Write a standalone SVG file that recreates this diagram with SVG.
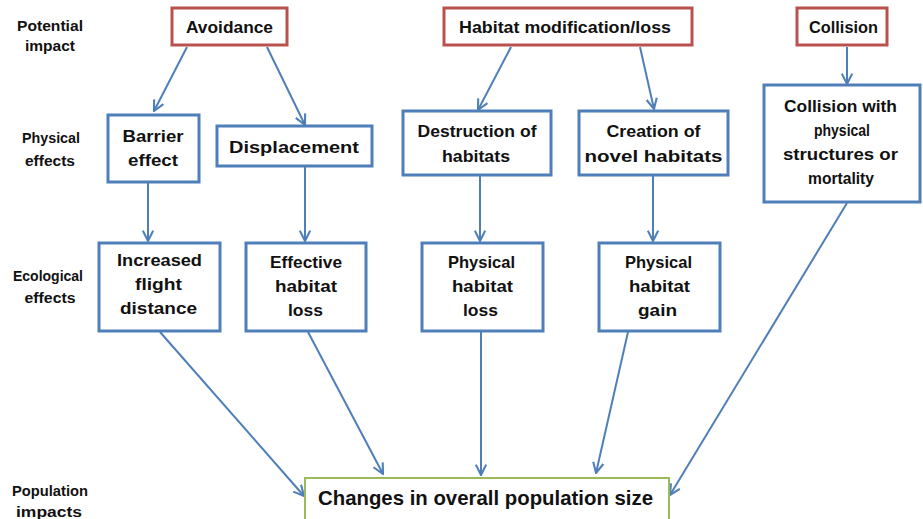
<svg xmlns="http://www.w3.org/2000/svg" width="923" height="519" viewBox="0 0 923 519">
<style>
text{font-family:"Liberation Sans",Arial,sans-serif;font-weight:bold;fill:#111;text-anchor:middle}
.lab{font-size:14px}
.t{font-size:17px}
.big{font-size:21px}
.red{fill:#fff;stroke:#b9524f;stroke-width:3}
.blue{fill:#fff;stroke:#4f7fb8;stroke-width:3}
.green{fill:#fff;stroke:#9bbb59;stroke-width:2}
.c line{stroke:#4f7fb8;stroke-width:2;marker-end:url(#ah)}
</style>
<defs>
<marker id="ah" viewBox="0 0 10 10" refX="9" refY="5" markerWidth="13" markerHeight="13" markerUnits="userSpaceOnUse" orient="auto">
<path d="M1,1 L9,5 L1,9" fill="none" stroke="#4f7fb8" stroke-width="1.6"/>
</marker>
</defs>
<rect width="923" height="519" fill="#fff"/>
<g id="row-labels">
<text class="lab" x="50" y="31" textLength="66" lengthAdjust="spacingAndGlyphs">Potential</text>
<text class="lab" x="50" y="51" textLength="50" lengthAdjust="spacingAndGlyphs">impact</text>
<text class="lab" x="51" y="143" textLength="58" lengthAdjust="spacingAndGlyphs">Physical</text>
<text class="lab" x="50" y="166" textLength="50" lengthAdjust="spacingAndGlyphs">effects</text>
<text class="lab" x="48" y="281" textLength="70" lengthAdjust="spacingAndGlyphs">Ecological</text>
<text class="lab" x="50" y="303" textLength="51" lengthAdjust="spacingAndGlyphs">effects</text>
<text class="lab" x="50" y="496" textLength="76" lengthAdjust="spacingAndGlyphs">Population</text>
<text class="lab" x="49" y="517" textLength="66" lengthAdjust="spacingAndGlyphs">impacts</text>
</g>
<g class="c" id="connectors">
<line x1="187" y1="47" x2="154" y2="111"/>
<line x1="267" y1="47" x2="305" y2="125"/>
<line x1="511" y1="47" x2="478" y2="110"/>
<line x1="640" y1="47" x2="654" y2="109"/>
<line x1="847" y1="47" x2="847" y2="84"/>
<line x1="148" y1="183" x2="148" y2="241"/>
<line x1="305" y1="167" x2="305" y2="241"/>
<line x1="480" y1="176" x2="480" y2="241"/>
<line x1="653" y1="176" x2="653" y2="241"/>
<line x1="160" y1="332" x2="304" y2="496"/>
<line x1="308" y1="332" x2="383" y2="474"/>
<line x1="481" y1="332" x2="481" y2="475"/>
<line x1="628" y1="332" x2="596" y2="473"/>
<line x1="847" y1="203" x2="670" y2="495"/>
</g>
<g id="avoidance"><rect class="red" x="172" y="8" width="115" height="37"/><text class="t" x="229.5" y="33" textLength="87" lengthAdjust="spacingAndGlyphs">Avoidance</text></g>
<g id="habitat-mod"><rect class="red" x="444" y="8" width="248" height="37"/><text class="t" x="565" y="33" textLength="212" lengthAdjust="spacingAndGlyphs">Habitat modification/loss</text></g>
<g id="collision"><rect class="red" x="797" y="8" width="90" height="37"/><text class="t" x="843.5" y="33" textLength="69" lengthAdjust="spacingAndGlyphs">Collision</text></g>
<g id="barrier"><rect class="blue" x="108" y="115" width="91" height="67"/><text class="t" x="153" y="142" textLength="61" lengthAdjust="spacingAndGlyphs">Barrier</text><text class="t" x="153" y="166" textLength="50" lengthAdjust="spacingAndGlyphs">effect</text></g>
<g id="displacement"><rect class="blue" x="217" y="126" width="155" height="40"/><text class="t" x="294" y="153" textLength="130" lengthAdjust="spacingAndGlyphs">Displacement</text></g>
<g id="destruction"><rect class="blue" x="403" y="111" width="148" height="64"/><text class="t" x="477" y="137" textLength="119" lengthAdjust="spacingAndGlyphs">Destruction of</text><text class="t" x="476" y="162" textLength="68" lengthAdjust="spacingAndGlyphs">habitats</text></g>
<g id="creation"><rect class="blue" x="579" y="111" width="149" height="64"/><text class="t" x="653.5" y="137" textLength="94" lengthAdjust="spacingAndGlyphs">Creation of</text><text class="t" x="653.5" y="162" textLength="138" lengthAdjust="spacingAndGlyphs">novel habitats</text></g>
<g id="collision-structures"><rect class="blue" x="764" y="85" width="156" height="117"/>
<text class="t" x="840.5" y="112" textLength="113" lengthAdjust="spacingAndGlyphs">Collision with</text>
<text class="t" x="842" y="136" textLength="56" lengthAdjust="spacingAndGlyphs">physical</text>
<text class="t" x="840.5" y="160" textLength="115" lengthAdjust="spacingAndGlyphs">structures  or</text>
<text class="t" x="841" y="184" textLength="66" lengthAdjust="spacingAndGlyphs">mortality</text></g>
<g id="flight"><rect class="blue" x="99" y="243" width="121" height="88"/>
<text class="t" x="159.5" y="266" textLength="85" lengthAdjust="spacingAndGlyphs">Increased</text>
<text class="t" x="158.5" y="290" textLength="47" lengthAdjust="spacingAndGlyphs">flight</text>
<text class="t" x="158.5" y="314" textLength="77" lengthAdjust="spacingAndGlyphs">distance</text></g>
<g id="effective"><rect class="blue" x="246" y="243" width="120" height="88"/>
<text class="t" x="306" y="268" textLength="72" lengthAdjust="spacingAndGlyphs">Effective</text>
<text class="t" x="306" y="292" textLength="62" lengthAdjust="spacingAndGlyphs">habitat</text>
<text class="t" x="305.5" y="316" textLength="35" lengthAdjust="spacingAndGlyphs">loss</text></g>
<g id="phys-loss"><rect class="blue" x="422" y="243" width="121" height="88"/>
<text class="t" x="481.5" y="268" textLength="67" lengthAdjust="spacingAndGlyphs">Physical</text>
<text class="t" x="482.5" y="292" textLength="61" lengthAdjust="spacingAndGlyphs">habitat</text>
<text class="t" x="480.5" y="316" textLength="35" lengthAdjust="spacingAndGlyphs">loss</text></g>
<g id="phys-gain"><rect class="blue" x="599" y="243" width="121" height="88"/>
<text class="t" x="658.5" y="268" textLength="67" lengthAdjust="spacingAndGlyphs">Physical</text>
<text class="t" x="659.5" y="292" textLength="61" lengthAdjust="spacingAndGlyphs">habitat</text>
<text class="t" x="657.5" y="316" textLength="39" lengthAdjust="spacingAndGlyphs">gain</text></g>
<g id="population"><rect class="green" x="305" y="478" width="364" height="50"/>
<text class="big" x="485.5" y="505" textLength="335" lengthAdjust="spacingAndGlyphs">Changes in overall population size</text></g>
</svg>
